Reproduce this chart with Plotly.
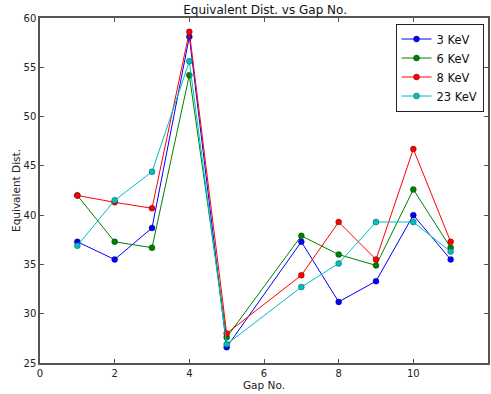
import plotly.graph_objects as go

# Gap numbers (no gap 6 measured)
gaps = [1, 2, 3, 4, 5, 7, 8, 9, 10, 11]

# Equivalent distance per beam energy
dist_3kev = [37.3, 35.5, 38.7, 58.1, 26.6, 37.3, 31.2, 33.3, 40.0, 35.5]
dist_6kev = [42.0, 37.3, 36.7, 54.2, 27.6, 37.9, 36.0, 34.9, 42.6, 36.7]
dist_8kev = [42.0, 41.3, 40.7, 58.6, 28.0, 33.9, 39.3, 35.5, 46.7, 37.3]
dist_23kev = [36.9, 41.5, 44.4, 55.6, 26.9, 32.7, 35.1, 39.3, 39.3, 36.3]

series_names = ["3 KeV", "6 KeV", "8 KeV", "23 KeV"]
series_values = [dist_3kev, dist_6kev, dist_8kev, dist_23kev]
series_colors = ["#0000ff", "#008000", "#ff0000", "#00bfbf"]

x_ticks = [0, 2, 4, 6, 8, 10, 12]
y_ticks = [25, 30, 35, 40, 45, 50, 55, 60]

fig = go.Figure()
for name, vals, color in zip(series_names, series_values, series_colors):
    fig.add_trace(go.Scatter(
        x=gaps, y=vals, name=name, mode="lines+markers",
        line=dict(color=color, width=1),
        marker=dict(color=color, size=6, line=dict(color="rgba(0,0,0,0.6)", width=0.5)),
    ))

axis_common = dict(
    showgrid=False, zeroline=False, showline=True, linecolor="#555555", linewidth=1.5,
    mirror="ticks", ticks="inside", ticklen=4, tickcolor="#555555", tickwidth=1,
    tickfont=dict(family="DejaVu Sans", size=10, color="#222222"),
)

fig.update_layout(
    width=491, height=394,
    margin=dict(l=40, r=1, t=18, b=31),
    paper_bgcolor="white", plot_bgcolor="white",
    title=dict(text="Equivalent Dist. vs Gap No.", x=0.54, xanchor="center",
               y=0.975, yanchor="middle",
               font=dict(family="DejaVu Sans", size=12, color="#111111")),
    xaxis=dict(range=[0, 12], tickvals=x_ticks,
               title=dict(text="Gap No.", standoff=4,
                          font=dict(family="DejaVu Sans", size=10.5, color="#222222")),
               **axis_common),
    yaxis=dict(range=[25, 60], tickvals=y_ticks,
               title=dict(text="Equivalent Dist.", standoff=1,
                          font=dict(family="DejaVu Sans", size=10.5, color="#222222")),
               **axis_common),
    legend=dict(x=0.99, y=0.984, xanchor="right", yanchor="top",
                bgcolor="white", bordercolor="#222222", borderwidth=1,
                font=dict(family="DejaVu Sans", size=11.5, color="#111111"),
                itemwidth=30, tracegroupgap=0),
    showlegend=True,
)

fig.write_html("out.html")
